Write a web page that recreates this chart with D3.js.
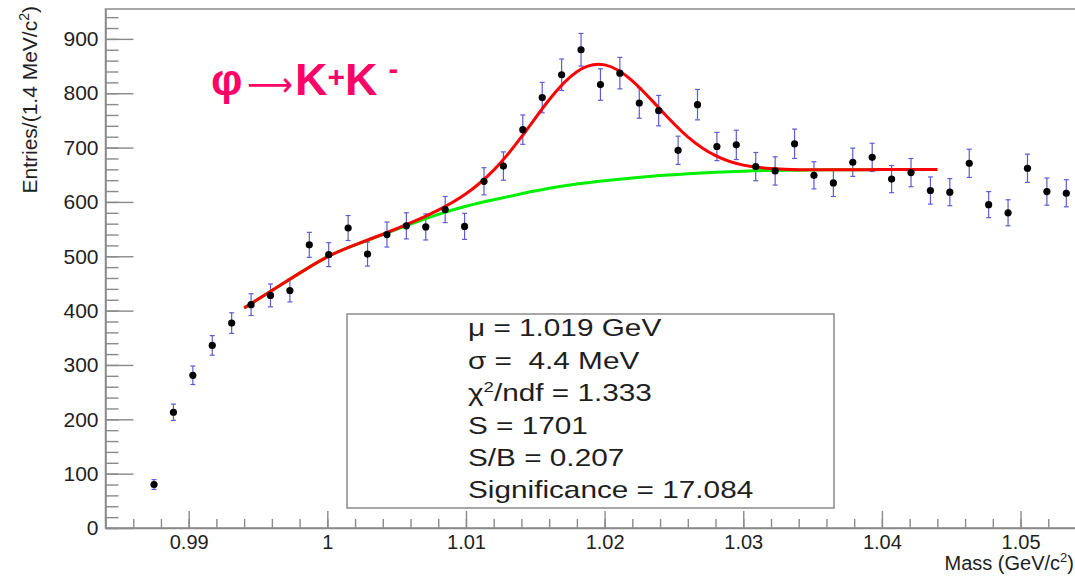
<!DOCTYPE html>
<html>
<head>
<meta charset="utf-8">
<script src="https://cdn.jsdelivr.net/npm/d3@7"></script>
<style>
  html, body { margin: 0; padding: 0; background: #fff; }
  svg { display: block; font-family: "Liberation Sans", Arial, Helvetica, sans-serif; }
</style>
</head>
<body>
<svg id="chart" width="1075" height="576"></svg>
<script>
// K+K- invariant mass histogram: 1.4 MeV bins from 0.984 to 1.054 GeV
const binWidth = 0.0014;
const binCenters = [
  0.9875, 0.9889, 0.9903, 0.9917, 0.9931, 0.9945, 0.9959, 0.9973, 0.9987, 1.0001,
  1.0015, 1.0029, 1.0043, 1.0057, 1.0071, 1.0085, 1.0099, 1.0113, 1.0127, 1.0141,
  1.0155, 1.0169, 1.0183, 1.0197, 1.0211, 1.0225, 1.0239, 1.0253, 1.0267, 1.0281,
  1.0295, 1.0309, 1.0323, 1.0337, 1.0351, 1.0365, 1.0379, 1.0393, 1.0407, 1.0421,
  1.0435, 1.0449, 1.0463, 1.0477, 1.0491, 1.0505, 1.0519, 1.0533
];
const entries = [
  80, 213, 281, 336, 377, 411, 428, 437, 521, 503,
  552, 504, 540, 556, 554, 586, 555, 638, 666, 733,
  792, 834, 880, 816, 837, 782, 768, 695, 779, 702,
  705, 665, 657, 707, 649, 635, 673, 682, 642, 654,
  621, 618, 671, 595, 580, 662, 619, 616
];
const entryErrors = [
  9, 15, 17, 18, 19, 20, 21, 21, 23, 22,
  23, 22, 23, 24, 24, 24, 24, 25, 26, 27,
  28, 29, 30, 29, 29, 28, 28, 26, 28, 26,
  27, 26, 26, 27, 25, 25, 26, 26, 25, 26,
  25, 25, 26, 24, 24, 26, 25, 25
];

// Background component of the fit
const bkgMass = [
  0.994, 0.996, 0.998, 1.000, 1.002, 1.004, 1.006, 1.008, 1.010, 1.012,
  1.014, 1.016, 1.018, 1.020, 1.022, 1.024, 1.026, 1.028, 1.030, 1.032,
  1.034, 1.036, 1.038, 1.040, 1.042, 1.044
];
const bkgValues = [
  405, 437, 469, 499, 521, 540, 559, 577, 592, 604,
  615, 625, 633, 639, 644, 648.5, 652, 654.5, 656.5, 658,
  658.5, 659, 659, 659.5, 659.5, 659.5
];

// Fit results for the phi peak
const peakMean = 1.0193;       // GeV
const peakSigma = 0.0044;      // GeV
const signalYield = 1701;
const chi2PerNdf = 1.333;
const signalOverBkg = 0.207;
const significance = 17.084;

const xTickValues = [0.99, 1.00, 1.01, 1.02, 1.03, 1.04, 1.05];
const xTickLabels = ["0.99", "1", "1.01", "1.02", "1.03", "1.04", "1.05"];
const yTickValues = [0, 100, 200, 300, 400, 500, 600, 700, 800, 900];
const yTickLabels = ["0", "100", "200", "300", "400", "500", "600", "700", "800", "900"];

const svg = d3.select("#chart");
const axisColor = "#8a8a8a";
const x = d3.scaleLinear().domain([0.984, 1.054]).range([105.5, 1076]);
const y = d3.scaleLinear().domain([0, 955]).range([528, 9]);

// Frame
svg.append("rect")
  .attr("x", x(0.984)).attr("y", y(955))
  .attr("width", x(1.054) - x(0.984)).attr("height", y(0) - y(955))
  .attr("fill", "none").attr("stroke", axisColor).attr("stroke-width", 1.5);

function styleAxis(g, fontSize) {
  g.selectAll("path").attr("stroke", axisColor).attr("stroke-width", 1.5);
  g.selectAll("line").attr("stroke", axisColor).attr("stroke-width", 1.4);
  g.selectAll("text").attr("fill", "#1e1e1e")
    .style("font-size", fontSize + "px")
    .style("font-family", '"Liberation Sans", Arial, sans-serif');
}

// X axis: minor ticks every 2 MeV, labelled majors every 10 MeV
const xMinor = d3.range(0, 36).map(i => 0.984 + 0.002 * i);
const gxm = svg.append("g").attr("transform", `translate(0,${y(0)})`)
  .call(d3.axisBottom(x).tickValues(xMinor).tickSize(-9).tickSizeOuter(0).tickFormat(""));
gxm.select(".domain").remove();
styleAxis(gxm, 20);
const gx = svg.append("g").attr("transform", `translate(0,${y(0)})`)
  .call(d3.axisBottom(x).tickValues(xTickValues).tickSize(-17).tickSizeOuter(0)
    .tickPadding(7).tickFormat((d, i) => xTickLabels[i]));
styleAxis(gx, 20);

// Y axis: minor ticks every 20 entries
const yMinor = d3.range(0, 48).map(i => 20 * i);
const gym = svg.append("g").attr("transform", `translate(${x(0.984)},0)`)
  .call(d3.axisLeft(y).tickValues(yMinor).tickSize(-13).tickSizeOuter(0).tickFormat(""));
gym.select(".domain").remove();
styleAxis(gym, 21);
const gy = svg.append("g").attr("transform", `translate(${x(0.984)},0)`)
  .call(d3.axisLeft(y).tickValues(yTickValues).tickSize(-28).tickSizeOuter(0)
    .tickPadding(7).tickFormat((d, i) => yTickLabels[i]));
styleAxis(gy, 21);

// Axis titles
const yTitle = svg.append("text")
  .attr("transform", "translate(37,6) rotate(-90)")
  .attr("text-anchor", "end").attr("fill", "#1e1e1e").style("font-size", "21px");
yTitle.append("tspan").text("Entries/(1.4 MeV/c");
yTitle.append("tspan").attr("dy", -8).style("font-size", "14px").text("2");
yTitle.append("tspan").attr("dy", 8).text(")");

const xTitle = svg.append("text")
  .attr("x", 1074).attr("y", 570)
  .attr("text-anchor", "end").attr("fill", "#1e1e1e").style("font-size", "20px");
xTitle.append("tspan").text("Mass (GeV/c");
xTitle.append("tspan").attr("dy", -8).style("font-size", "13px").text("2");
xTitle.append("tspan").attr("dy", 8).text(")");

// Fit curves: background and background + Gaussian signal
const bkgPoints = bkgMass.map((m, i) => [m, bkgValues[i]]);
const gaussAmp = signalYield * binWidth / (Math.sqrt(2 * Math.PI) * peakSigma);
const totalPoints = bkgMass.map((m, i) =>
  [m, bkgValues[i] + gaussAmp * Math.exp(-0.5 * Math.pow((m - peakMean) / peakSigma, 2))]);
const line = d3.line().x(d => x(d[0])).y(d => y(d[1])).curve(d3.curveNatural);

// Histogram points with error bars
const errColor = "#5c5cd0";
const pts = svg.append("g");
binCenters.forEach((m, i) => {
  const cx = x(m), v = entries[i], e = entryErrors[i];
  pts.append("line").attr("x1", cx).attr("x2", cx)
    .attr("y1", y(v - e)).attr("y2", y(v + e))
    .attr("stroke", errColor).attr("stroke-width", 1.2);
  [v - e, v + e].forEach(c => {
    pts.append("line").attr("x1", cx - 2.5).attr("x2", cx + 2.5)
      .attr("y1", y(c)).attr("y2", y(c))
      .attr("stroke", errColor).attr("stroke-width", 1.2);
  });
});

svg.append("path").datum(bkgPoints).attr("d", line)
  .attr("fill", "none").attr("stroke", "#00f000").attr("stroke-width", 3);
svg.append("path").datum(totalPoints).attr("d", line)
  .attr("fill", "none").attr("stroke", "#ff0000").attr("stroke-width", 3);

svg.append("g").selectAll("circle").data(binCenters).join("circle")
  .attr("cx", d => x(d)).attr("cy", (d, i) => y(entries[i]))
  .attr("r", 3.6).attr("fill", "#000");

// Decay label
const titleColor = "#fb0468";
const title = svg.append("g").attr("fill", titleColor).style("font-weight", "bold");
title.append("text").attr("x", 211).attr("y", 95).style("font-size", "44px").text("φ");
title.append("text").attr("x", 247).attr("y", 96)
  .attr("textLength", 46).attr("lengthAdjust", "spacingAndGlyphs")
  .style("font-family", '"DejaVu Sans", sans-serif').style("font-weight", "normal")
  .style("font-size", "34px").text("⟶");
const kk = title.append("text").attr("x", 295).attr("y", 95).style("font-size", "45px");
kk.append("tspan").text("K");
kk.append("tspan").attr("dy", -8).style("font-size", "30px").text("+");
kk.append("tspan").attr("dy", 8).text("K");
kk.append("tspan").attr("dx", 11).attr("dy", -16).style("font-size", "29px").text("-");

// Fit statistics box
svg.append("rect").attr("x", 347).attr("y", 314).attr("width", 487).attr("height", 194)
  .attr("fill", "#fff").attr("stroke", axisColor).attr("stroke-width", 1.5);
const statsLines = [
  [{ t: "μ = " + peakMean.toFixed(3) + " GeV" }],
  [{ t: "σ =  " + (peakSigma * 1000).toFixed(1) + " MeV" }],
  [{ t: "χ" }, { t: "2", sup: true }, { t: "/ndf = " + chi2PerNdf.toFixed(3) }],
  [{ t: "S = " + signalYield }],
  [{ t: "S/B = " + signalOverBkg.toFixed(3) }],
  [{ t: "Significance = " + significance.toFixed(3) }]
];
const stats = svg.append("g").attr("transform", "translate(468,0) scale(1.24,1)");
statsLines.forEach((parts, i) => {
  const t = stats.append("text").attr("x", 0).attr("y", 336.5 + i * 32.35)
    .attr("fill", "#1e1e1e").style("font-size", "24px").style("white-space", "pre");
  parts.forEach(p => {
    const s = t.append("tspan").text(p.t);
    if (p.sup) s.attr("dy", -9).style("font-size", "15px");
    else if (t.selectAll("tspan").size() > 1 && parts[0] !== p) s.attr("dy", 9);
  });
});
</script>
</body>
</html>
